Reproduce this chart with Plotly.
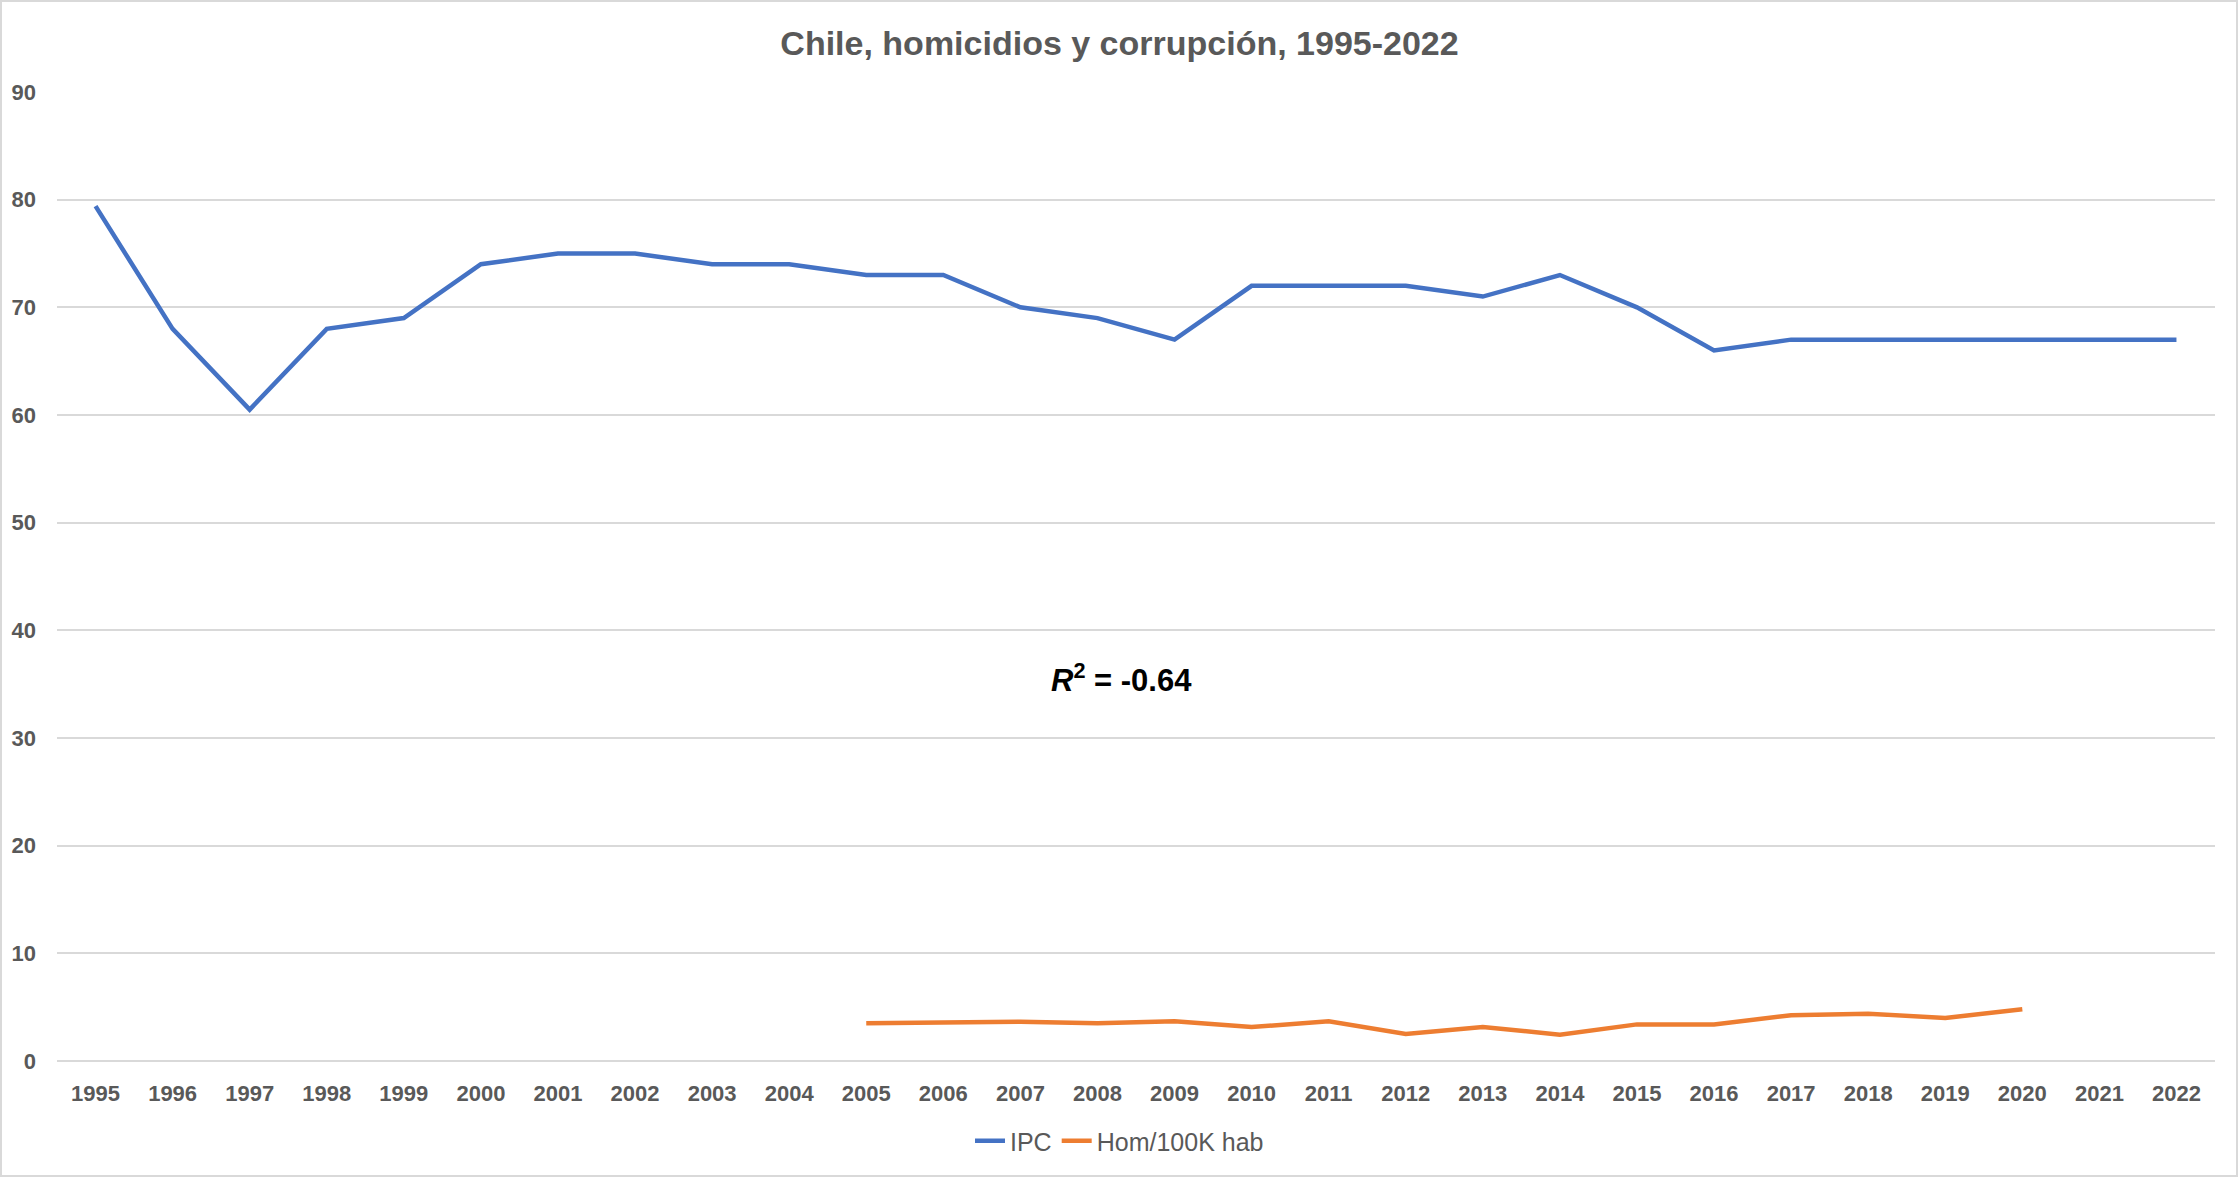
import plotly.graph_objects as go

years = [str(y) for y in range(1995, 2023)]
ipc = [79.4, 68, 60.5, 68, 69, 74, 75, 75, 74, 74, 73, 73, 70, 69, 67, 72, 72, 72, 71, 73, 70, 66, 67, 67, 67, 67, 67, 67]
hom = [None] * 10 + [3.5, 3.6, 3.65, 3.5, 3.7, 3.15, 3.7, 2.5, 3.15, 2.45, 3.4, 3.4, 4.25, 4.4, 4.0, 4.8, None, None]
y_ticks = [0, 10, 20, 30, 40, 50, 60, 70, 80, 90]

W, H = 2239, 1178
ML, MR, MT, MB = 57, 24, 92, 117
FONT = "Liberation Sans, Arial, sans-serif"
GREY = "#595959"

fig = go.Figure()
fig.add_trace(go.Scatter(x=years, y=ipc, mode="lines", name="IPC",
                         line=dict(color="#4472C4", width=4.5, shape="linear"), connectgaps=False))
fig.add_trace(go.Scatter(x=years, y=hom, mode="lines", name="Hom/100K hab",
                         line=dict(color="#ED7D31", width=4.5, shape="linear"), connectgaps=False))

pw = W - ML - MR
ph = H - MT - MB
fig.add_shape(type="rect", xref="paper", yref="paper",
              x0=-(ML - 1) / pw, x1=1 + (MR - 2) / pw,
              y0=-(MB - 2) / ph, y1=1 + (MT - 1) / ph,
              line=dict(color="#d9d9d9", width=2), fillcolor="rgba(0,0,0,0)", layer="below")

fig.add_annotation(x=(1121 - ML) / pw, y=35.6 / 90, xref="paper", yref="paper",
                   showarrow=False, xanchor="center", yanchor="middle",
                   text="<b><i>R</i><sup>2</sup> = -0.64</b>",
                   font=dict(family=FONT, size=31, color="#000000"))

fig.update_layout(
    width=W, height=H,
    margin=dict(l=ML, r=MR, t=MT, b=MB, pad=0),
    paper_bgcolor="white", plot_bgcolor="white",
    title=dict(text="<b>Chile, homicidios y corrupción, 1995-2022</b>",
               x=0.5, xref="container", xanchor="center",
               y=1 - 43 / H, yref="container", yanchor="middle",
               font=dict(family=FONT, size=34, color=GREY)),
    showlegend=True,
    legend=dict(orientation="h", x=0.5, xref="container", xanchor="center",
                y=1 - 1141 / H, yref="container", yanchor="middle",
                font=dict(family=FONT, size=25, color=GREY),
                itemwidth=30, tracegroupgap=0),
    xaxis=dict(type="category", range=[-0.5, 27.5], showgrid=False, zeroline=False,
               showline=False, ticks="", ticklabelstandoff=17,
               tickfont=dict(family=FONT, size=22, color=GREY, weight="bold")),
    yaxis=dict(range=[0, 90], tickvals=y_ticks, ticktext=[str(v) for v in y_ticks],
               showgrid=True, gridcolor="#d9d9d9", gridwidth=2,
               zeroline=True, zerolinecolor="#d9d9d9", zerolinewidth=2,
               showline=False, ticks="", ticklabelstandoff=20,
               tickfont=dict(family=FONT, size=22, color=GREY, weight="bold")),
)

fig.write_html("out.html")
